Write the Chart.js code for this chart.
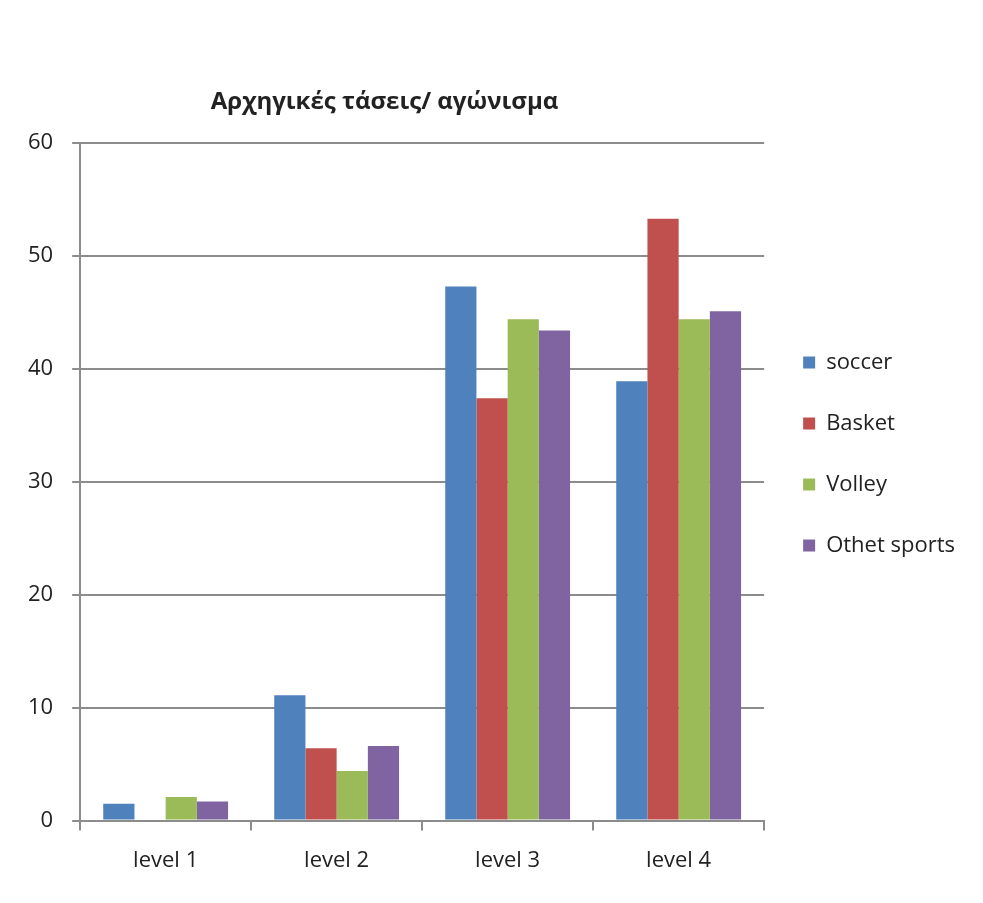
<!DOCTYPE html>
<html>
<head>
<meta charset="utf-8">
<script src="https://cdn.jsdelivr.net/npm/chart.js@4.4.0/dist/chart.umd.min.js"></script>
<style>
  html, body { margin: 0; padding: 0; background: #fff; }
  #wrap { width: 983px; height: 903px; }
</style>
</head>
<body>
<div id="wrap"><canvas id="chart"></canvas></div>
<script>
var chartTitle = "Αρχηγικές τάσεις/ αγώνισμα";
var levels = ["level 1", "level 2", "level 3", "level 4"];
var soccer = [1.5, 11.1, 47.3, 38.9];
var basket = [0, 6.4, 37.4, 53.3];
var volley = [2.1, 4.4, 44.4, 44.4];
var otherSports = [1.7, 6.6, 43.4, 45.1];
var yTicks = [0, 10, 20, 30, 40, 50, 60];

var fontFamily = "'Open Sans', sans-serif";
var gridColor = "#8c8c8c";

// title drawn by hand so it sits where the original puts it,
// and the legend nudged up a bit like in the original
var layoutPlugin = {
  id: "tweaks",
  afterLayout: function(chart) {
    chart.legend.top -= 63;
    chart.legend.bottom -= 63;
  },
  afterDraw: function(chart) {
    var c = chart.ctx;
    var area = chart.chartArea;
    c.save();
    c.font = "bold 24px " + fontFamily;
    c.fillStyle = "#222";
    c.textAlign = "center";
    c.textBaseline = "middle";
    c.fillText(chartTitle, area.left + area.width * 0.445, 102);
    c.restore();
  }
};

var ctx = document.getElementById("chart").getContext("2d");
new Chart(ctx, {
  type: "bar",
  data: {
    labels: levels,
    datasets: [{
      label: "soccer",
      backgroundColor: "#4F81BD",
      data: soccer
    }, {
      label: "Basket",
      backgroundColor: "#C0504D",
      data: basket
    }, {
      label: "Volley",
      backgroundColor: "#9BBB59",
      data: volley
    }, {
      label: "Othet sports",
      backgroundColor: "#8064A2",
      data: otherSports
    }],
  },
  options: {
    responsive: true,
    maintainAspectRatio: false,
    animation: false,
    datasets: {
      bar: {
        categoryPercentage: 0.73,
        barPercentage: 1.0,
        borderWidth: 0
      }
    },
    layout: {
      padding: { top: 143, left: 9, right: 18, bottom: 12 }
    },
    plugins: {
      title: { display: false },
      tooltip: { enabled: false },
      legend: {
        display: true,
        position: "right",
        align: "center",
        labels: {
          boxWidth: 12,
          boxHeight: 12,
          padding: 39,
          color: "#222",
          font: { size: 22, family: fontFamily }
        }
      }
    },
    scales: {
      y: {
        min: 0,
        max: 60,
        afterBuildTicks: function(axis) {
          axis.ticks = yTicks.map(function(v) { return { value: v }; });
        },
        grid: {
          color: gridColor,
          lineWidth: 2,
          drawTicks: true,
          tickLength: 8,
          tickColor: gridColor
        },
        border: { color: gridColor, width: 2 },
        ticks: {
          padding: 19,
          color: "#222",
          font: { size: 22, family: fontFamily }
        }
      },
      x: {
        grid: {
          offset: true,
          drawOnChartArea: false,
          drawTicks: true,
          tickLength: 10,
          tickColor: gridColor,
          lineWidth: 2
        },
        border: { color: gridColor, width: 2 },
        ticks: {
          padding: 17,
          color: "#222",
          font: { size: 22, family: fontFamily }
        }
      }
    }
  },
  plugins: [layoutPlugin]
});
</script>
</body>
</html>
